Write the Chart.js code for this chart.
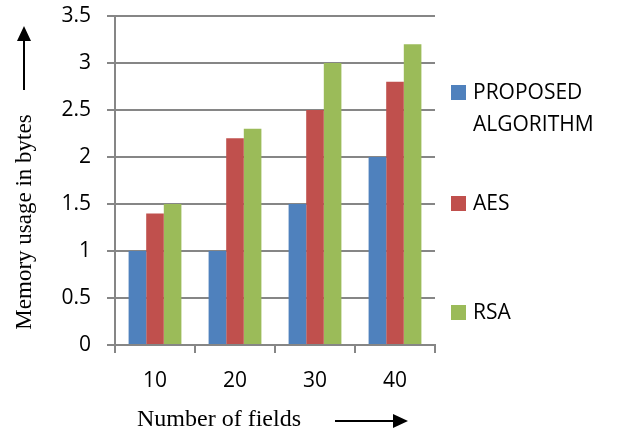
<!DOCTYPE html>
<html>
<head>
<meta charset="utf-8">
<script src="https://cdn.jsdelivr.net/npm/chart.js@4/dist/chart.umd.min.js"></script>
<style>
html,body{margin:0;padding:0;background:#fff;}
#wrap{width:618px;height:434px;position:relative;}
</style>
</head>
<body>
<div id="wrap"><canvas id="c" width="618" height="434"></canvas></div>
<script>
const categories = ['10', '20', '30', '40'];
const proposed = [1, 1, 1.5, 2];
const aes = [1.4, 2.2, 2.5, 2.8];
const rsa = [1.5, 2.3, 3, 3.2];
const seriesNames = [['PROPOSED', 'ALGORITHM'], ['AES'], ['RSA']];
const yTitle = 'Memory usage in bytes';
const xTitle = 'Number of fields';

const colors = ['#4F81BD', '#C0504D', '#9BBB59'];
const fontFamily = '"Open Sans", Lato, sans-serif';
const tickFont = {family: fontFamily, size: 21};

function arrow(ctx, x1, y1, x2, y2) {
  const a = Math.atan2(y2 - y1, x2 - x1);
  const hl = 15, hw = 7;
  const bx = x2 - hl * Math.cos(a), by = y2 - hl * Math.sin(a);
  ctx.save();
  ctx.strokeStyle = '#000'; ctx.fillStyle = '#000'; ctx.lineWidth = 2;
  ctx.beginPath(); ctx.moveTo(x1, y1); ctx.lineTo(bx, by); ctx.stroke();
  ctx.beginPath();
  ctx.moveTo(x2, y2);
  ctx.lineTo(bx + hw * Math.sin(a), by - hw * Math.cos(a));
  ctx.lineTo(bx - hw * Math.sin(a), by + hw * Math.cos(a));
  ctx.closePath(); ctx.fill();
  ctx.restore();
}

const extras = {
  id: 'extras',
  afterDraw(chart) {
    const ctx = chart.ctx;
    ctx.save();
    ctx.fillStyle = '#000';
    ctx.textBaseline = 'middle';
    ctx.textAlign = 'center';
    ctx.font = '24px "Liberation Serif", "Times New Roman", serif';
    ctx.fillText(xTitle, 219, 420);
    ctx.font = '23px "Liberation Serif", "Times New Roman", serif';
    ctx.save();
    ctx.translate(25, 222);
    ctx.rotate(-Math.PI / 2);
    ctx.fillText(yTitle, 0, 0);
    ctx.restore();
    arrow(ctx, 24, 90, 24, 26);
    arrow(ctx, 335, 421, 408, 421);
    // legend
    ctx.font = '21px ' + fontFamily;
    ctx.textAlign = 'left';
    const rows = [[92, 124], [203], [312]];
    chart.data.datasets.forEach((ds, i) => {
      ctx.fillStyle = ds.backgroundColor;
      ctx.fillRect(451, rows[i][0] - 7, 15, 15);
      ctx.fillStyle = '#000';
      seriesNames[i].forEach((line, j) => ctx.fillText(line, 473, rows[i][j] + 1));
    });
    ctx.restore();
  }
};

new Chart(document.getElementById('c'), {
  type: 'bar',
  data: {
    labels: categories,
    datasets: [
      {label: seriesNames[0].join(' '), data: proposed, backgroundColor: colors[0]},
      {label: seriesNames[1].join(' '), data: aes, backgroundColor: colors[1]},
      {label: seriesNames[2].join(' '), data: rsa, backgroundColor: colors[2]}
    ]
  },
  options: {
    responsive: false,
    animation: false,
    devicePixelRatio: 1,
    layout: {padding: {left: 0, right: 183, top: 16, bottom: 0}},
    plugins: {legend: {display: false}, tooltip: {enabled: false}, title: {display: false}},
    datasets: {bar: {categoryPercentage: 0.66, barPercentage: 1}},
    scales: {
      x: {
        afterFit(s) { s.height = 89; s.paddingLeft = 0; s.paddingRight = 0; },
        grid: {offset: true, drawOnChartArea: false, drawTicks: true, tickLength: 8, color: '#868686', lineWidth: 2},
        border: {color: '#868686', width: 2},
        ticks: {color: '#000', font: tickFont, padding: 15}
      },
      y: {
        min: 0, max: 3.5,
        afterFit(s) { s.width = 115; s.paddingTop = 0; s.paddingBottom = 0; },
        grid: {color: '#868686', lineWidth: 2, tickLength: 8},
        border: {color: '#868686', width: 2},
        ticks: {stepSize: 0.5, color: '#000', font: tickFont, padding: 16,
                callback: v => String(v)}
      }
    }
  },
  plugins: [extras]
});
</script>
</body>
</html>
